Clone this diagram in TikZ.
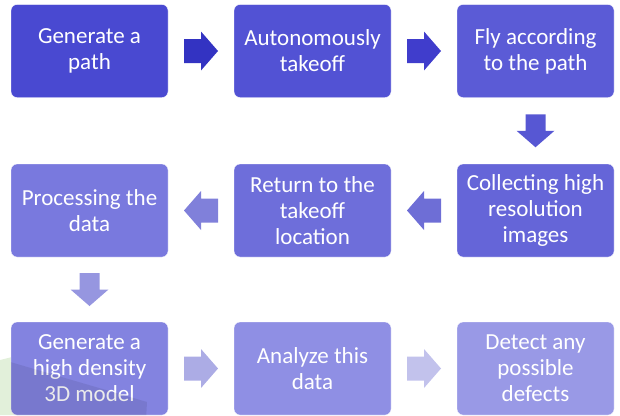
\documentclass[tikz,border=0pt]{standalone}
\usepackage{fontspec}
\setmainfont{Carlito}
\usetikzlibrary{calc}
\definecolor{c1}{RGB}{73,73,209}
\definecolor{c2}{RGB}{82,82,212}
\definecolor{c3}{RGB}{91,91,214}
\definecolor{c4}{RGB}{101,101,216}
\definecolor{c5}{RGB}{110,110,218}
\definecolor{c6}{RGB}{121,121,222}
\definecolor{c7}{RGB}{131,131,224}
\definecolor{c8}{RGB}{143,143,228}
\definecolor{c9}{RGB}{153,153,230}
\definecolor{a1}{RGB}{51,51,194}
\definecolor{a2}{RGB}{64,61,204}
\definecolor{a3}{RGB}{87,87,211}
\definecolor{a4}{RGB}{110,110,214}
\definecolor{a5}{RGB}{128,128,218}
\definecolor{a6}{RGB}{150,150,224}
\definecolor{a7}{RGB}{172,172,229}
\definecolor{a8}{RGB}{194,194,236}
\definecolor{leaf}{RGB}{226,240,218}
\tikzset{
  stepbox/.style={rectangle, rounded corners=6pt, minimum width=157pt, minimum height=93pt,
    inner sep=2pt, text=white, align=center, font=\fontsize{23}{26}\selectfont,
    draw=white, line width=0.3pt},
  rarr/.pic={\fill (-17,-12) -- (0,-12) -- (0,-19.5) -- (17,0) -- (0,19.5) -- (0,12) -- (-17,12) -- cycle;},
  larr/.pic={\fill (17,-12) -- (0,-12) -- (0,-19.5) -- (-17,0) -- (0,19.5) -- (0,12) -- (17,12) -- cycle;},
  darr/.pic={\fill (-10,-16.5) -- (-10,0) -- (-19,0) -- (0,16.5) -- (19,0) -- (10,0) -- (10,-16.5) -- cycle;},
}
\begin{document}
\begin{tikzpicture}[x=1pt,y=-1pt]
\useasboundingbox (0,0) rectangle (620,415);
\fill[leaf] (0,360) -- (20,355) -- (20,415) -- (0,415) -- cycle;
\node[stepbox, fill=c1] (b1) at (89.5,51) {Generate a\\path};
\node[stepbox, fill=c2] (b2) at (312.5,51) {Autonomously\\takeoff};
\node[stepbox, fill=c3] (b3) at (535.5,51) {Fly according\\to the path};
\node[stepbox, fill=c4] (b4) at (535.5,210.5) {Collecting high\\resolution\\images};
\node[stepbox, fill=c5] (b5) at (312.5,210.5) {Return to the\\takeoff\\location};
\node[stepbox, fill=c6] (b6) at (89.5,210.5) {Processing the\\data};
\node[stepbox, fill=c7] (b7) at (89.5,368.5) {Generate a\\high density\\3D model};
\node[stepbox, fill=c8] (b8) at (312.5,368.5) {Analyze this\\data};
\node[stepbox, fill=c9] (b9) at (535.5,368.5) {Detect any\\possible\\defects};
\begin{scope}
\clip[rounded corners=6pt] (b7.north west) rectangle (b7.south east);
\fill[black, opacity=0.08] (0,359) -- (147,402) -- (146,420) -- (0,420) -- cycle;
\end{scope}
\pic[a1] at ($(b1.east)!.5!(b2.west)$) {rarr};
\pic[a2] at ($(b2.east)!.5!(b3.west)$) {rarr};
\pic[a3] at ($(b3.south)!.5!(b4.north)$) {darr};
\pic[a4] at ($(b4.west)!.5!(b5.east)$) {larr};
\pic[a5] at ($(b5.west)!.5!(b6.east)$) {larr};
\pic[a6] at ($(b6.south)!.5!(b7.north)$) {darr};
\pic[a7] at ($(b7.east)!.5!(b8.west)$) {rarr};
\pic[a8] at ($(b8.east)!.5!(b9.west)$) {rarr};
\end{tikzpicture}
\end{document}
